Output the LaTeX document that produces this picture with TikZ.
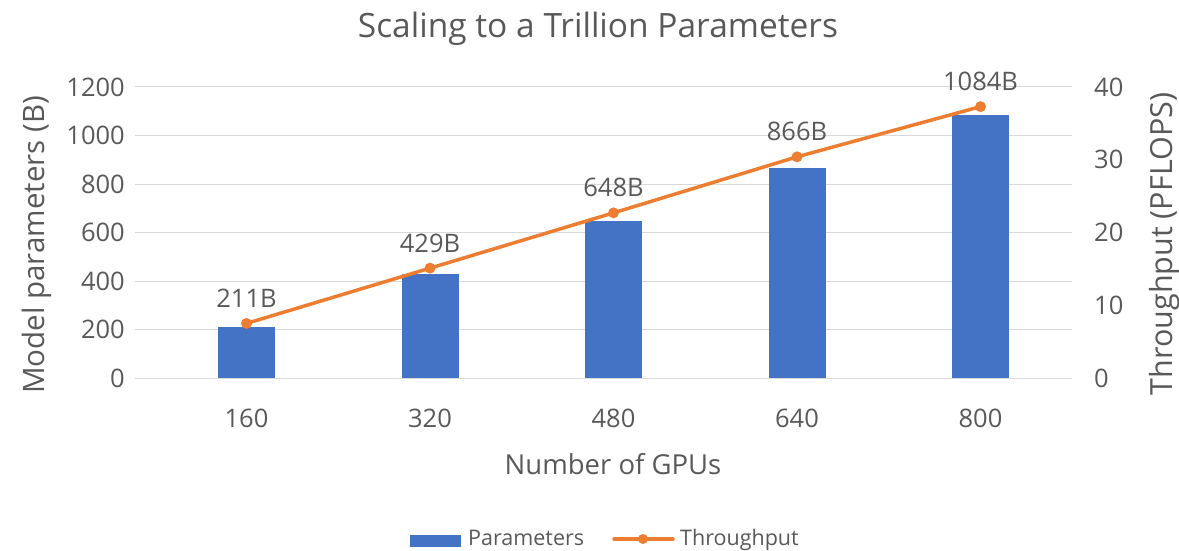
\documentclass[tikz,border=0pt]{standalone}
\usepackage{fontspec}
\setmainfont{Open Sans}
\definecolor{barblue}{HTML}{4472C4}
\definecolor{lineorange}{HTML}{ED7D31}
\definecolor{gridgray}{HTML}{D9D9D9}
\definecolor{textgray}{HTML}{595959}
\begin{document}
\begin{tikzpicture}
[x=1pt,y=-1pt,
 ticklabel/.style={text=textgray,font=\fontsize{25.5}{30}\selectfont,inner sep=0pt},
 valuelabel/.style={text=textgray,font=\fontsize{25.5}{30}\selectfont,inner sep=0pt,anchor=base},
 axistitle/.style={text=textgray,font=\fontsize{27.5}{32}\selectfont,inner sep=0pt,anchor=base},
 legendlabel/.style={text=textgray,font=\fontsize{21.5}{25}\selectfont,inner sep=0pt,anchor=base west},
 gridline/.style={gridgray,line width=1pt},
 bardecorate/.style={fill=barblue,draw=none},
 linedecorate/.style={lineorange,line width=3.5pt,line cap=round,line join=round},
 dotdecorate/.style={circle,fill=lineorange,inner sep=0pt,minimum size=11pt}]
\useasboundingbox (0,0) rectangle (1179,551);
% title
\node (title) at (598,38) [axistitle,font=\fontsize{33.5}{38}\selectfont] {Scaling to a Trillion Parameters};
% grid and axis ticks
\foreach \v [count=\i from 0] in {0,200,400,600,800,1000,1200} {
  \pgfmathsetmacro{\gy}{378-\i*48.5}
  \draw[gridline] (135,\gy) -- (1072,\gy);
  \node (l\i) at (125,\gy) [ticklabel,anchor=east] {\v};
}
\foreach \v [count=\i from 0] in {0,10,20,30,40} {
  \pgfmathsetmacro{\gy}{378-\i*72.75}
  \node (r\i) at (1094,\gy) [ticklabel,anchor=west] {\v};
}
% bars, throughput points and labels
\foreach \g/\p/\t [count=\i from 0] in {160/211/7.5,320/429/15.1,480/648/22.7,640/866/30.4,800/1084/37.3} {
  \pgfmathsetmacro{\cx}{246.5+\i*183.5}
  \pgfmathsetmacro{\by}{378-\p/1200*291}
  \pgfmathsetmacro{\ty}{378-\t/40*291}
  \fill[bardecorate] (\cx-28.5,378) rectangle (\cx+28.5,\by);
  \coordinate (p\i) at (\cx,\ty);
  \node (v\i) at (\cx,\ty-16) [valuelabel] {\p B};
  \node (g\i) at (\cx,427) [valuelabel] {\g};
}
% throughput line
\draw[linedecorate] (p0) -- (p1) -- (p2) -- (p3) -- (p4);
\foreach \i in {0,...,4}
  \node (d\i) at (p\i) [dotdecorate] {};
% axis titles
\node (xtitle) at (613,474) [axistitle] {Number of GPUs};
\node (ytitle) at (45,245) [axistitle,font=\fontsize{29.5}{34}\selectfont,rotate=90] {Model parameters (B)};
\node (y2title) at (1172,244) [axistitle,font=\fontsize{30.5}{35}\selectfont,rotate=90] {Throughput (PFLOPS)};
% legend
\fill[bardecorate] (410,535) rectangle (461,547);
\node (legpar) at (468,545) [legendlabel] {Parameters};
\coordinate (lega) at (614,539);
\coordinate (legb) at (673,539);
\draw[linedecorate] (lega) -- (legb);
\node (legdot) at (643,539) [dotdecorate,minimum size=10pt] {};
\node (legthr) at (680,545) [legendlabel] {Throughput};
\end{tikzpicture}
\end{document}
